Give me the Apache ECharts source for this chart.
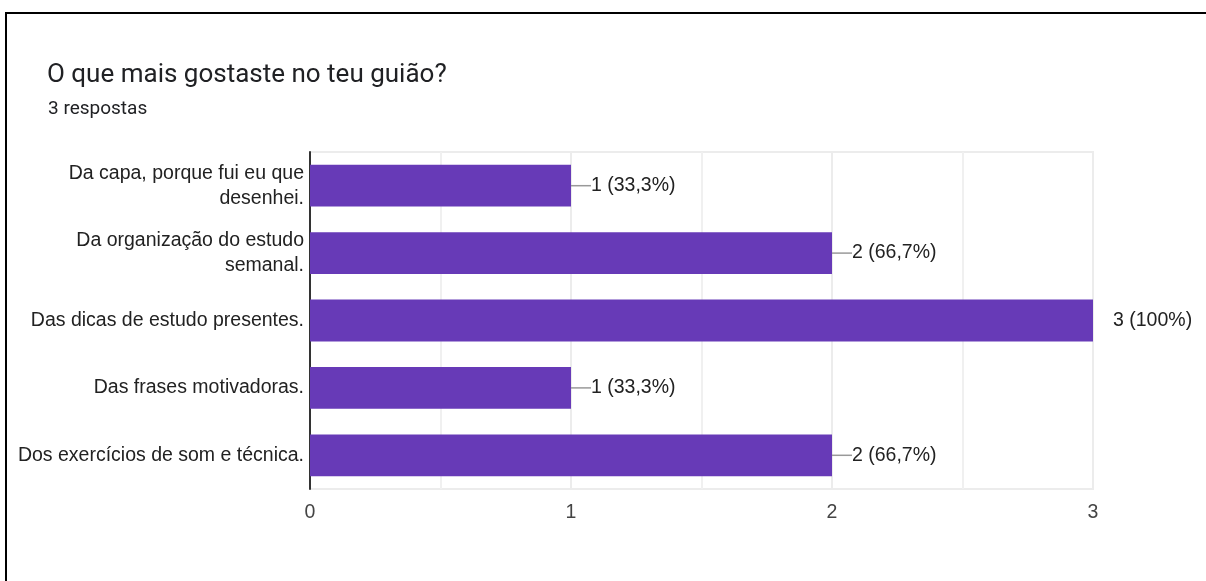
<!DOCTYPE html>
<html>
<head>
<meta charset="utf-8">
<script src="https://cdn.jsdelivr.net/npm/echarts@6/dist/echarts.min.js"></script>
<style>
  html, body { margin: 0; padding: 0; background: #fff; }
  #chart { width: 1206px; height: 581px; }
  #frame {
    position: absolute; left: 5px; top: 12px; width: 1300px; height: 700px;
    border-top: 2px solid #000; border-left: 2px solid #000; pointer-events: none;
  }
</style>
</head>
<body>
<div id="chart"></div>
<div id="frame"></div>
<script>
// dados
var titulo = "O que mais gostaste no teu guião?";
var respostas = 3;
var categorias = [
  "Da capa, porque fui eu que\ndesenhei.",
  "Da organização do estudo\nsemanal.",
  "Das dicas de estudo presentes.",
  "Das frases motivadoras.",
  "Dos exercícios de som e técnica."
];
var valores = [1, 2, 3, 1, 2];
var eixoMax = 3;

function fmtLabel (v) {
  var p = Math.round(v / respostas * 1000) / 10;
  var s = (p === 100 ? "100" : p.toFixed(1).replace(".", ","));
  return v + " (" + s + "%)";
}

var chart = echarts.init(document.getElementById("chart"));
var option = {
  backgroundColor: "#fff",
  animation: false,
  title: [
    {
      text: titulo, left: 42, top: 57,
      textStyle: { fontFamily: "Roboto", fontSize: 26, fontWeight: "normal", color: "#202124" }
    },
    {
      text: respostas + " respostas", left: 43, top: 95,
      textStyle: { fontFamily: "Roboto", fontSize: 19, fontWeight: "normal", color: "#202124" }
    }
  ],
  grid: {
    left: 310, right: 113, top: 152, height: 337,
    show: true, borderColor: "#ececec", borderWidth: 2
  },
  xAxis: {
    type: "value", min: 0, max: eixoMax, interval: 1,
    axisLine: { show: false },
    axisTick: { show: false },
    axisLabel: { fontFamily: "Liberation Sans", fontSize: 19.5, color: "#444", margin: 14 },
    splitLine: { lineStyle: { color: "#ececec", width: 2 } },
    minorTick: { show: false, splitNumber: 2 },
    minorSplitLine: { show: true, lineStyle: { color: "#f0f0f0", width: 2 } }
  },
  yAxis: {
    type: "category", inverse: true, data: categorias,
    axisLine: { lineStyle: { color: "#333", width: 2 } },
    axisTick: { show: false },
    axisLabel: {
      fontFamily: "Liberation Sans", fontSize: 19.5, color: "#222",
      margin: 6, lineHeight: 25, align: "right"
    }
  },
  series: [{
    type: "bar",
    barWidth: "62%",
    itemStyle: { color: "#673ab7" },
    data: valores.map(function (v) {
      return { value: v, labelLine: { show: v < eixoMax } };
    }),
    label: {
      show: true, position: "right", distance: 0,
      fontFamily: "Liberation Sans", fontSize: 19.5, color: "#222",
      formatter: function (p) { return fmtLabel(p.value); }
    },
    labelLayout: { dx: 20 },
    labelLine: { show: true, lineStyle: { color: "#999", width: 1.5 } }
  }]
};
chart.setOption(option);
</script>
</body>
</html>
